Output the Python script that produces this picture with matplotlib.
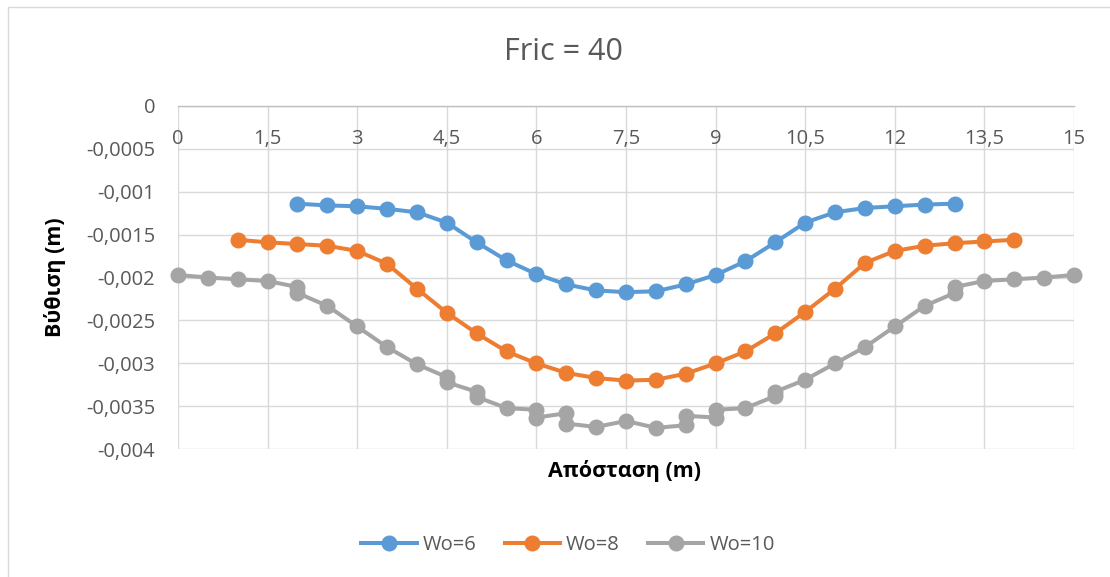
import matplotlib
matplotlib.use("Agg")
import matplotlib.pyplot as plt
from matplotlib.patches import Rectangle
from matplotlib.lines import Line2D

# ---------------- data ----------------
title = "Fric = 40"
x_label = "Απόσταση (m)"
y_label = "Βύθιση (m)"

x_ticks = [0, 1.5, 3, 4.5, 6, 7.5, 9, 10.5, 12, 13.5, 15]
x_tick_labels = ["0", "1,5", "3", "4,5", "6", "7,5", "9", "10,5", "12", "13,5", "15"]
y_ticks = [0, -0.0005, -0.001, -0.0015, -0.002, -0.0025, -0.003, -0.0035, -0.004]
y_tick_labels = ["0", "-0,0005", "-0,001", "-0,0015", "-0,002", "-0,0025", "-0,003", "-0,0035", "-0,004"]

x_w6 = [2, 2.5, 3, 3.5, 4, 4.5, 5, 5.5, 6, 6.5, 7, 7.5, 8, 8.5, 9, 9.5, 10, 10.5, 11, 11.5, 12, 12.5, 13]
y_w6 = [-0.00114, -0.00116, -0.00117, -0.00120, -0.00124, -0.00136, -0.00159, -0.00180, -0.00196,
        -0.00208, -0.00215, -0.00217, -0.00216, -0.00208, -0.00197, -0.00181, -0.00159, -0.00136,
        -0.00124, -0.00119, -0.00117, -0.00115, -0.00114]

x_w8 = [1, 1.5, 2, 2.5, 3, 3.5, 4, 4.5, 5, 5.5, 6, 6.5, 7, 7.5, 8, 8.5, 9, 9.5, 10, 10.5, 11, 11.5,
        12, 12.5, 13, 13.5, 14]
y_w8 = [-0.00156, -0.00159, -0.00161, -0.00163, -0.00169, -0.00184, -0.00213, -0.00241, -0.00265,
        -0.00286, -0.00300, -0.00311, -0.00317, -0.00320, -0.00319, -0.00312, -0.00300, -0.00286,
        -0.00265, -0.00240, -0.00213, -0.00183, -0.00169, -0.00163, -0.00160, -0.00158, -0.00156]

x_w10 = [0, 0.5, 1, 1.5, 2, 2, 2.5, 3, 3.5, 4, 4.5, 4.5, 5, 5, 5.5, 6, 6, 6.5, 6.5, 7, 7.5, 8,
         8.5, 8.5, 9, 9, 9.5, 10, 10, 10.5, 11, 11.5, 12, 12.5, 13, 13, 13.5, 14, 14.5, 15]
y_w10 = [-0.00197, -0.00200, -0.00202, -0.00204, -0.00211, -0.00218, -0.00233, -0.00257, -0.00281,
         -0.00301, -0.00316, -0.00322, -0.00333, -0.00339, -0.00352, -0.00354, -0.00363, -0.00358,
         -0.00370, -0.00374, -0.00367, -0.00375, -0.00372, -0.00361, -0.00363, -0.00354, -0.00352,
         -0.00338, -0.00333, -0.00319, -0.00300, -0.00281, -0.00257, -0.00233, -0.00218, -0.00211,
         -0.00204, -0.00202, -0.00200, -0.00197]

series_names = ["Wo=6", "Wo=8", "Wo=10"]
series_colors = ["#5B9BD5", "#ED7D31", "#A5A5A5"]

# ---------------- figure ----------------
W, H = 1110, 577
fig = plt.figure(figsize=(W / 100, H / 100), dpi=100)
fig.patch.set_facecolor("white")

FONT = ["Open Sans", "DejaVu Sans"]
TXT = "#595959"
GRID = "#D9D9D9"

# outer chart border
fig.patches.append(Rectangle((8 / W, -0.1), 1.2, 1.1 - 7 / H, transform=fig.transFigure,
                             fill=False, edgecolor=GRID, linewidth=1.0))

left, right, top, bottom = 178, 1074, 105.8, 449.3
ax = fig.add_axes([left / W, 1 - bottom / H, (right - left) / W, (bottom - top) / H])
ax.set_xlim(0, 15)
ax.set_ylim(-0.004, 0)

for xs, ys, c, n in zip([x_w6, x_w8, x_w10], [y_w6, y_w8, y_w10], series_colors, series_names):
    ax.plot(xs, ys, color=c, linewidth=2.9, marker="o", markersize=10.5, label=n,
            solid_capstyle="round", zorder=3, clip_on=False)

ax.set_xticks(x_ticks)
ax.set_xticklabels(x_tick_labels)
ax.set_yticks(y_ticks)
ax.set_yticklabels(y_tick_labels)

ax.grid(True, color=GRID, linewidth=1.0)
ax.set_axisbelow(True)
for s in ["top", "left", "right"]:
    ax.spines[s].set_visible(False)
ax.spines["bottom"].set_position(("data", 0))
ax.spines["bottom"].set_color("#BFBFBF")
ax.spines["bottom"].set_linewidth(1.0)

ax.tick_params(axis="x", length=0, pad=17, labelsize=14.5, labelcolor=TXT)
ax.tick_params(axis="y", length=0, pad=16.5, labelsize=14.5, labelcolor=TXT)
for lab in ax.get_xticklabels() + ax.get_yticklabels():
    lab.set_fontfamily(FONT)

fig.text(563 / W, 1 - 52 / H, title, ha="center", va="center", fontsize=22,
         color=TXT, family=FONT)
fig.text(625 / W, 1 - 471 / H, x_label, ha="center", va="center", fontsize=15.5,
         fontweight="bold", color="black", family=FONT)
fig.text(55 / W, 1 - 277 / H, y_label, ha="center", va="center", rotation=90, fontsize=15.5,
         fontweight="bold", color="black", family=FONT)

handles = [Line2D([], [], color=c, linewidth=2.9, marker="o", markersize=10.5)
           for c in series_colors]
leg = fig.legend(handles, series_names, loc="center", bbox_to_anchor=(568 / W, 1 - 545 / H),
                 ncol=3, frameon=False, handlelength=2.75, handletextpad=0.3,
                 columnspacing=1.4, prop={"family": FONT, "size": 14.5})
for t in leg.get_texts():
    t.set_color(TXT)

fig.savefig("out.png", dpi=100, facecolor="white")
